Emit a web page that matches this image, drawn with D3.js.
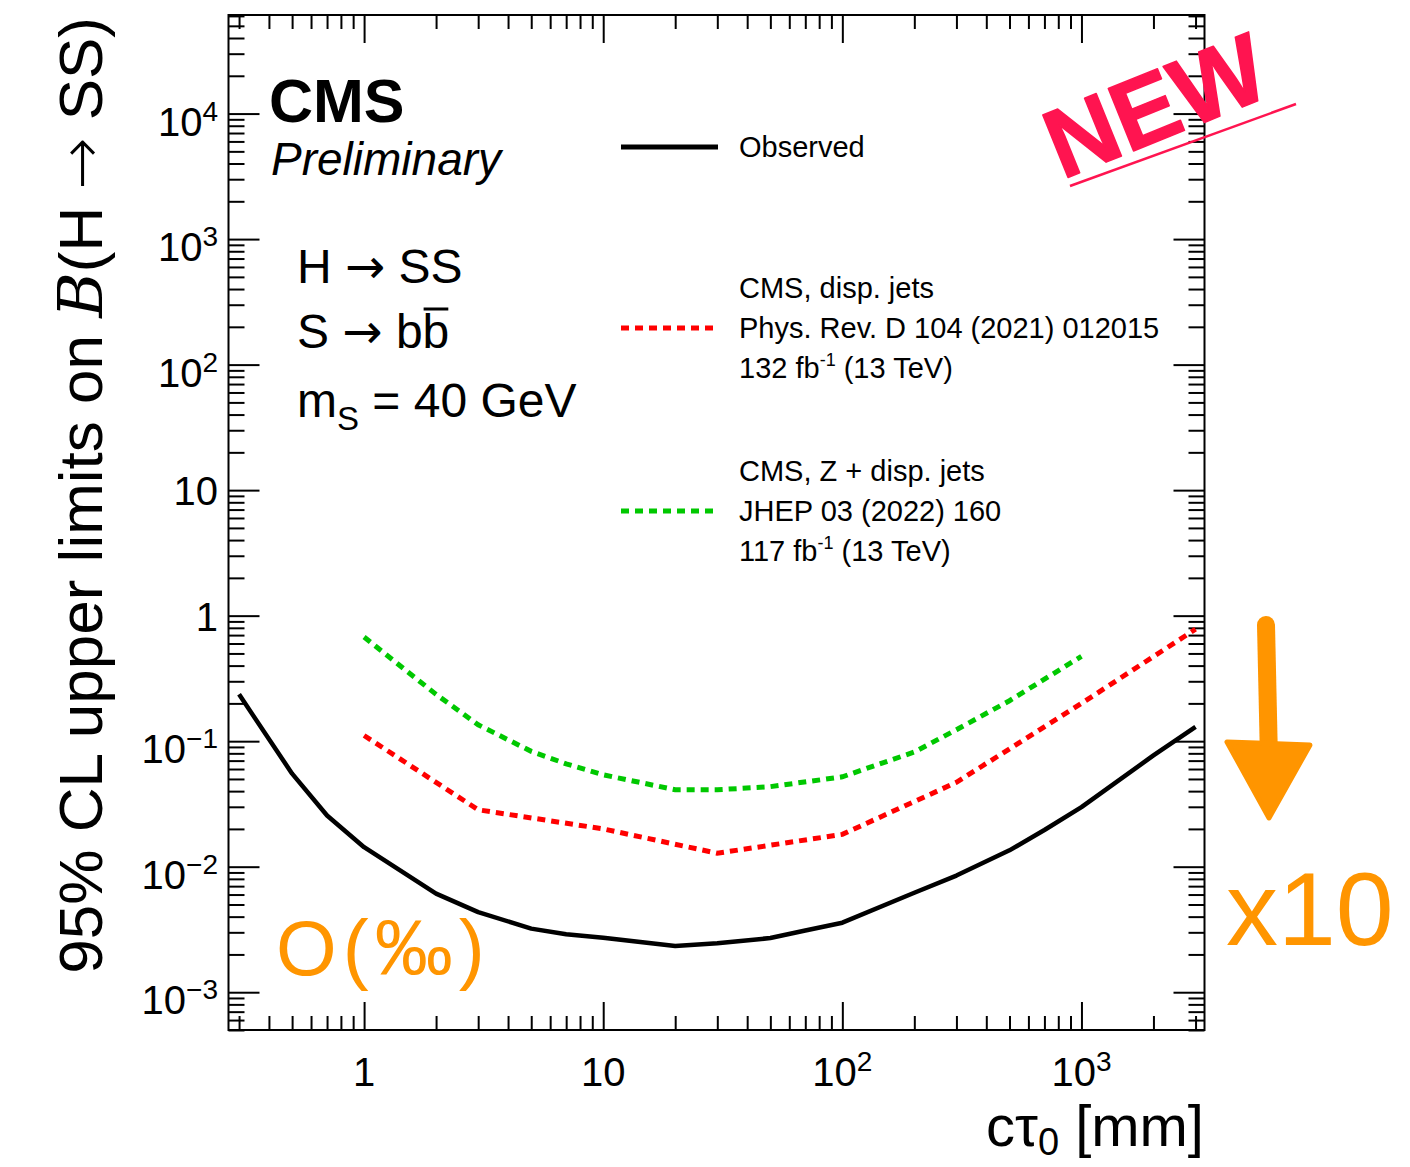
<!DOCTYPE html>
<html>
<head>
<meta charset="utf-8">
<script src="https://cdn.jsdelivr.net/npm/d3@7"></script>
<style>
  body { margin: 0; background: #fff; }
  svg text { font-family: "Liberation Sans", Arial, sans-serif; }
</style>
</head>
<body>
<div id="chart"></div>
<script>
// limits on B(H -> SS), mS = 40 GeV, vs c tau
const obsCtau = [0.3, 0.5, 0.7, 1, 2, 3, 5, 7, 10, 20, 30, 50, 70, 100, 200, 300, 500, 700, 1000, 2000, 3000]
const obsLimit = [0.236, 0.0551, 0.0256, 0.0143, 0.0061, 0.00435, 0.00321, 0.0029, 0.00272, 0.00233, 0.00246, 0.0027, 0.0031, 0.00358, 0.0062, 0.0085, 0.0135, 0.0196, 0.0298, 0.077, 0.13]

const dispCtau = [1, 3, 10, 30, 100, 300, 1000, 3000]
const dispLimit = [0.111, 0.0284, 0.020, 0.0128, 0.0181, 0.047, 0.2, 0.78]

const zCtau = [1, 2, 3, 5, 7, 10, 20, 30, 50, 100, 200, 300, 500, 1000]
const zLimit = [0.675, 0.236, 0.135, 0.083, 0.066, 0.054, 0.041, 0.041, 0.0434, 0.052, 0.082, 0.1235, 0.21, 0.474]

const xTickExp = [0, 1, 2, 3]
const yTickExp = [-3, -2, -1, 0, 1, 2, 3, 4]

const width = 1410, height = 1167
const margin = {top: 15, right: 205.5, bottom: 137, left: 228.5}
const innerW = width - margin.left - margin.right
const innerH = height - margin.top - margin.bottom

const svg = d3.select("#chart").append("svg")
    .attr("width", width)
    .attr("height", height)

const x = d3.scaleLog().domain([0.271, 3270]).range([margin.left, margin.left + innerW])
const y = d3.scaleLog().domain([5e-4, 6.1e4]).range([margin.top + innerH, margin.top])

// minor tick values: 2..9 times each decade inside the domain
function minorTicks(scale) {
    let [a, b] = scale.domain()
    let out = []
    for (let e = Math.floor(Math.log10(a)); e <= Math.ceil(Math.log10(b)); e++) {
        for (let m = 2; m <= 9; m++) {
            let v = m * Math.pow(10, e)
            if (v >= a && v <= b) out.push(v)
        }
    }
    return out
}
const xMajor = xTickExp.map(e => Math.pow(10, e))
const yMajor = yTickExp.map(e => Math.pow(10, e))

function drawAxis(axisFn, scale, vals, size, tx, ty) {
    let g = svg.append("g")
        .attr("transform", `translate(${tx},${ty})`)
        .call(axisFn(scale).tickValues(vals).tickSize(size).tickFormat(""))
    g.select(".domain").remove()
    g.selectAll("line").attr("stroke", "#000").attr("stroke-width", 2)
}
const bottomY = margin.top + innerH, rightX = margin.left + innerW
drawAxis(d3.axisBottom, x, xMajor, -28, 0, bottomY)
drawAxis(d3.axisBottom, x, minorTicks(x), -14, 0, bottomY)
drawAxis(d3.axisTop, x, xMajor, -28, 0, margin.top)
drawAxis(d3.axisTop, x, minorTicks(x), -14, 0, margin.top)
drawAxis(d3.axisLeft, y, yMajor, -31, margin.left, 0)
drawAxis(d3.axisLeft, y, minorTicks(y), -16, margin.left, 0)
drawAxis(d3.axisRight, y, yMajor, -31, rightX, 0)
drawAxis(d3.axisRight, y, minorTicks(y), -16, rightX, 0)

// frame
svg.append("rect")
    .attr("x", margin.left).attr("y", margin.top)
    .attr("width", innerW).attr("height", innerH)
    .attr("fill", "none").attr("stroke", "#000").attr("stroke-width", 2)

// tick labels (ROOT style: 1, 10, 10^n)
function powLabel(sel, e) {
    if (e === 0) { sel.text("1"); return false }
    if (e === 1) { sel.text("10"); return false }
    sel.append("tspan").text("10")
    sel.append("tspan").attr("dy", -15).attr("font-size", 28)
        .text(e < 0 ? "\u2212" + (-e) : e)
    return true
}
yTickExp.forEach(e => {
    let t = svg.append("text")
        .attr("x", 218)
        .attr("text-anchor", "end")
        .attr("font-size", 40)
    let sup = powLabel(t, e)
    t.attr("y", y(Math.pow(10, e)) + (sup ? 22 : 15))
})
xTickExp.forEach(e => {
    let t = svg.append("text")
        .attr("x", x(Math.pow(10, e)))
        .attr("y", 1086)
        .attr("text-anchor", "middle")
        .attr("font-size", 40)
    powLabel(t, e)
})

const arrowFont = "DejaVu Sans"

// axis titles
let xt = svg.append("text")
    .attr("x", 1204).attr("y", 1146)
    .attr("text-anchor", "end")
    .attr("font-size", 58)
xt.append("tspan").text("c\u03c4")
xt.append("tspan").attr("dy", 9).attr("font-size", 38).text("0")
xt.append("tspan").attr("dy", -9).text(" [mm]")

let yt = svg.append("text")
    .attr("transform", "translate(102,17) rotate(-90)")
    .attr("text-anchor", "end")
    .attr("font-size", 62)
yt.append("tspan").text("95% CL upper limits on ")
yt.append("tspan").attr("font-family", "DejaVu Serif").attr("font-style", "italic").text("B")
yt.append("tspan").text("(H ")
yt.append("tspan").attr("font-family", arrowFont).attr("font-weight", 300).text("\u2192")
yt.append("tspan").text(" SS)")

// curves
const line = d3.line().x(d => x(d[0])).y(d => y(d[1]))
svg.append("path")
    .datum(d3.zip(zCtau, zLimit))
    .attr("d", line)
    .attr("fill", "none").attr("stroke", "#00c800")
    .attr("stroke-width", 5).attr("stroke-dasharray", "8,6")
svg.append("path")
    .datum(d3.zip(dispCtau, dispLimit))
    .attr("d", line)
    .attr("fill", "none").attr("stroke", "#ff0000")
    .attr("stroke-width", 5).attr("stroke-dasharray", "8,6")
svg.append("path")
    .datum(d3.zip(obsCtau, obsLimit))
    .attr("d", line)
    .attr("fill", "none").attr("stroke", "#000")
    .attr("stroke-width", 4.5).attr("stroke-linejoin", "round")

// CMS label
svg.append("text").attr("x", 269).attr("y", 122)
    .attr("font-size", 61).attr("font-weight", "bold").text("CMS")
svg.append("text").attr("x", 271).attr("y", 175)
    .attr("font-size", 46).attr("font-style", "italic").text("Preliminary")

// process text
let hs = svg.append("text").attr("x", 297).attr("y", 283).attr("font-size", 48)
hs.append("tspan").text("H ")
hs.append("tspan").attr("font-family", arrowFont).text("\u2192")
hs.append("tspan").text(" SS")
let bb = svg.append("text").attr("x", 297).attr("y", 348).attr("font-size", 48)
bb.append("tspan").text("S ")
bb.append("tspan").attr("font-family", arrowFont).text("\u2192")
bb.append("tspan").text(" b")
let bbar = bb.append("tspan").text("b")
let bx = bbar.node().getStartPositionOfChar(0).x
let bw = bbar.node().getComputedTextLength()
svg.append("line").attr("x1", bx + 1).attr("x2", bx + bw - 1)
    .attr("y1", 348 - 39).attr("y2", 348 - 39)
    .attr("stroke", "#000").attr("stroke-width", 3)
let ms = svg.append("text").attr("x", 297).attr("y", 417).attr("font-size", 48)
ms.append("tspan").text("m")
ms.append("tspan").attr("dy", 13).attr("font-size", 33).text("S")
ms.append("tspan").attr("dy", -13).text(" = 40 GeV")

// legend
const legend = [
    {color: "#000", dash: null, y: 147, lines: ["Observed"], w: 5},
    {color: "#ff0000", dash: "8,6", y: 328, lines: ["CMS, disp. jets", "Phys. Rev. D 104 (2021) 012015", "132 fb|(13 TeV)"], w: 5},
    {color: "#00c800", dash: "8,6", y: 511, lines: ["CMS, Z + disp. jets", "JHEP 03 (2022) 160", "117 fb|(13 TeV)"], w: 5}
]
legend.forEach(l => {
    svg.append("line").attr("x1", 621).attr("x2", 718)
        .attr("y1", l.y).attr("y2", l.y)
        .attr("stroke", l.color).attr("stroke-width", l.w)
        .attr("stroke-dasharray", l.dash)
    let off = l.lines.length === 1 ? [0] : [-40, 0, 40]
    l.lines.forEach((s, i) => {
        let t = svg.append("text").attr("x", 739).attr("y", l.y + off[i] + 10)
            .attr("font-size", 29)
        if (s.includes("|")) {
            let parts = s.split("|")
            t.append("tspan").text(parts[0])
            t.append("tspan").attr("dy", -12).attr("font-size", 18).text("-1")
            t.append("tspan").attr("dy", 12).text(" " + parts[1])
        } else {
            t.text(s)
        }
    })
})

// hand-drawn annotations
const stamp = "#ff1450", orange = "#ff9500"
svg.append("text")
    .attr("transform", "translate(1062,180) rotate(-22)")
    .attr("font-size", 98).attr("font-weight", "bold")
    .attr("fill", stamp).attr("stroke", stamp).attr("stroke-width", 1.5)
    .attr("stroke-linejoin", "round")
    .text("NEW")
svg.append("line").attr("x1", 1070).attr("y1", 186).attr("x2", 1296).attr("y2", 104)
    .attr("stroke", stamp).attr("stroke-width", 2.5)

svg.append("line").attr("x1", 1266).attr("y1", 625).attr("x2", 1269).attr("y2", 760)
    .attr("stroke", orange).attr("stroke-width", 18).attr("stroke-linecap", "round")
svg.append("path").attr("d", "M1227,742 L1310,745 L1269,818 Z")
    .attr("fill", orange).attr("stroke", orange).attr("stroke-width", 5)
    .attr("stroke-linejoin", "round")
svg.append("text").attr("x", 1226).attr("y", 945)
    .attr("font-size", 104).attr("fill", orange).text("x10")
svg.append("text").attr("x", 276).attr("y", 975)
    .attr("font-size", 78).attr("fill", orange)
    .attr("letter-spacing", 6)
    .text("O(\u2030)")
</script>
</body>
</html>
